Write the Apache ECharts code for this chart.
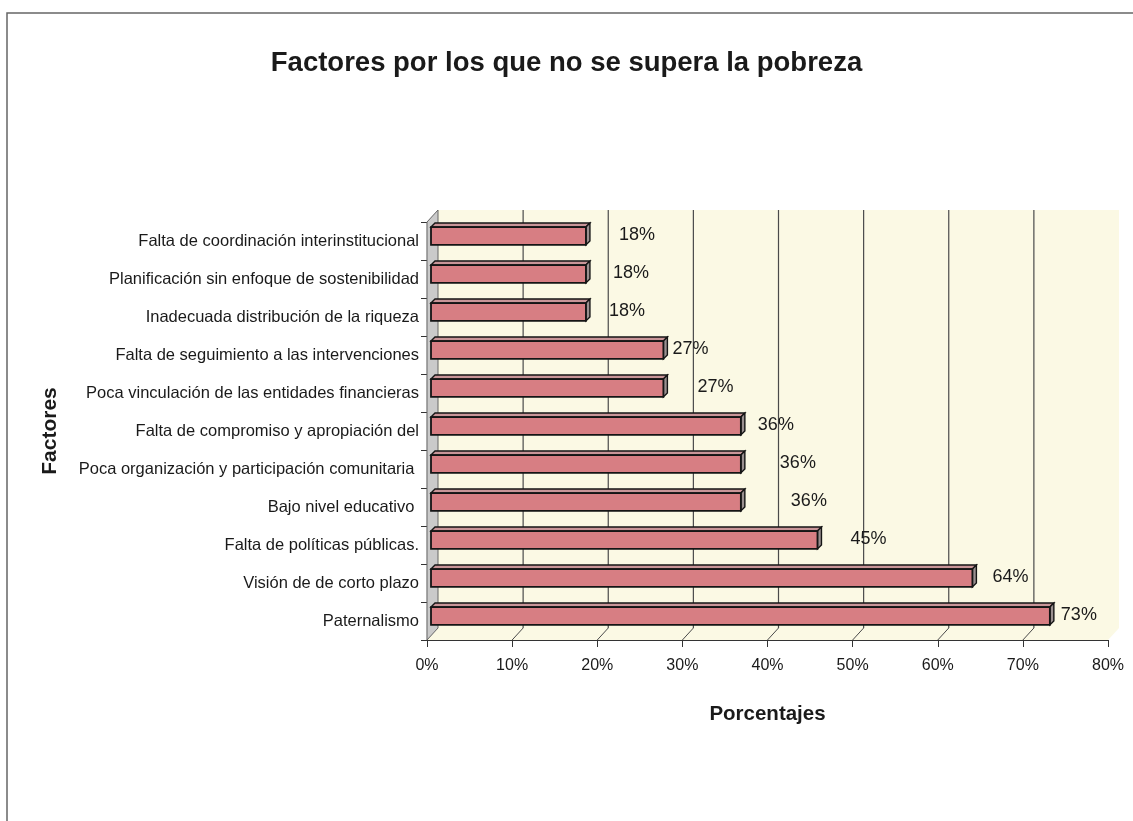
<!DOCTYPE html>
<html>
<head>
<meta charset="utf-8">
<script src="https://cdn.jsdelivr.net/npm/echarts@6/dist/echarts.min.js"></script>
<style>html,body{margin:0;padding:0;background:#fff;}#c{width:1133px;height:821px;}</style>
</head>
<body>
<div id="c"></div>
<script>
// ---- data ----
const categories = [
  'Falta de coordinación interinstitucional',
  'Planificación sin enfoque de sostenibilidad',
  'Inadecuada distribución de la riqueza',
  'Falta de seguimiento a las intervenciones',
  'Poca vinculación de las entidades financieras',
  'Falta de compromiso y apropiación del',
  'Poca organización y participación comunitaria ',
  'Bajo nivel educativo ',
  'Falta de políticas públicas.',
  'Visión de de corto plazo',
  'Paternalismo'
];
const values = [18.2, 18.2, 18.2, 27.3, 27.3, 36.4, 36.4, 36.4, 45.4, 63.6, 72.7];
const xTicks = [0, 10, 20, 30, 40, 50, 60, 70, 80];
const titleText = 'Factores por los que no se supera la pobreza';
const xName = 'Porcentajes';
const yName = 'Factores';

// ---- styling ----
const FONT = '"Liberation Sans", Arial, sans-serif';
const DEPTH_X = 11, DEPTH_Y = 12;      // wall depth
const BAR_DX = 4, BAR_DY = 5;          // bar placement within depth
const BAR_D = 4;                       // bar thickness (3D)
const labelNudge = [24, 18, 14, 0, 25, 8, 30, 41, 24, 11, 2];

const chart = echarts.init(document.getElementById('c'), null, {renderer: 'canvas'});

function backdrop(params, api) {
  const n = categories.length;
  const band = api.size([0, 1])[1];
  const x0 = api.coord([xTicks[0], 0])[0];
  const x1 = api.coord([xTicks[xTicks.length - 1], 0])[0];
  const yTop = api.coord([0, 0])[1] - band / 2;
  const yBot = api.coord([0, n - 1])[1] + band / 2;
  const children = [];
  // back wall + floor
  children.push({type: 'polygon', shape: {points: [
    [x0, yBot], [x0 + DEPTH_X, yBot - DEPTH_Y], [x0 + DEPTH_X, yTop - DEPTH_Y],
    [x1 + DEPTH_X, yTop - DEPTH_Y], [x1 + DEPTH_X, yBot - DEPTH_Y], [x1, yBot]
  ]}, style: {fill: '#fbf9e4'}});
  // left wall
  children.push({type: 'polygon', shape: {points: [
    [x0, yTop], [x0 + DEPTH_X, yTop - DEPTH_Y], [x0 + DEPTH_X, yBot - DEPTH_Y], [x0, yBot]
  ]}, style: {fill: '#cacaca', stroke: '#666', lineWidth: 1}});
  // grid lines on back wall and floor connectors
  xTicks.forEach(function (t) {
    if (t === xTicks[0] || t === xTicks[xTicks.length - 1]) return;
    const x = api.coord([t, 0])[0];
    children.push({type: 'line', shape: {x1: x + DEPTH_X, y1: yTop - DEPTH_Y, x2: x + DEPTH_X, y2: yBot - DEPTH_Y},
      style: {stroke: '#4a4a4a', lineWidth: 1.2}});
    children.push({type: 'line', shape: {x1: x, y1: yBot, x2: x + DEPTH_X, y2: yBot - DEPTH_Y},
      style: {stroke: '#4a4a4a', lineWidth: 1}});
  });
  return {type: 'group', children: children};
}

function bar3d(params, api) {
  const v = api.value(0);
  const idx = api.value(1);
  const band = api.size([0, 1])[1];
  const p0 = api.coord([0, idx]);
  const p1 = api.coord([v, idx]);
  const h = band * 0.47;
  const xa = p0[0] + BAR_DX, xb = p1[0] + BAR_DX;
  const yc = p1[1] - BAR_DY;
  const yt = yc - h / 2, yb = yc + h / 2;
  const stroke = '#151515';
  return {type: 'group', children: [
    {type: 'polygon', shape: {points: [[xa, yt], [xa + BAR_D, yt - BAR_D], [xb + BAR_D, yt - BAR_D], [xb, yt]]},
      style: {fill: '#c99598', stroke: stroke, lineWidth: 1.4}},
    {type: 'polygon', shape: {points: [[xb, yt], [xb + BAR_D, yt - BAR_D], [xb + BAR_D, yb - BAR_D], [xb, yb]]},
      style: {fill: '#9a9090', stroke: stroke, lineWidth: 1.4}},
    {type: 'rect', shape: {x: xa, y: yt, width: xb - xa, height: h},
      style: {fill: '#d77e83', stroke: stroke, lineWidth: 1.8}},
    {type: 'text', x: xb + BAR_D + 5 + labelNudge[idx], y: yc - 1,
      style: {text: Math.round(v) + '%', fill: '#1a1a1a', font: '18px ' + FONT, textAlign: 'left', textVerticalAlign: 'middle'}}
  ]};
}

chart.setOption({
  backgroundColor: '#ffffff',
  animation: false,
  title: {
    text: titleText, left: 'center', top: 44,
    textStyle: {fontFamily: FONT, fontSize: 27.5, fontWeight: 'bold', color: '#1a1a1a'}
  },
  graphic: [{
    type: 'polyline', shape: {points: [[7, 821], [7, 13], [1133, 13]]},
    style: {stroke: '#666', lineWidth: 1.5, fill: null}, silent: true
  }],
  grid: {left: 427, right: 25, top: 222, bottom: 181, containLabel: false},
  xAxis: {
    type: 'value', min: xTicks[0], max: xTicks[xTicks.length - 1], interval: 10,
    name: xName, nameLocation: 'middle', nameGap: 64,
    nameTextStyle: {fontFamily: FONT, fontSize: 20.5, fontWeight: 'bold', color: '#1a1a1a'},
    axisLine: {show: true, lineStyle: {color: '#333', width: 1.2}},
    axisTick: {show: true, length: 7, lineStyle: {color: '#333'}},
    axisLabel: {formatter: '{value}%', fontFamily: FONT, fontSize: 16, color: '#1a1a1a', margin: 18},
    splitLine: {show: false}
  },
  yAxis: {
    type: 'category', data: categories, inverse: true,
    name: yName, nameLocation: 'middle', nameGap: 366, nameRotate: 90,
    nameTextStyle: {fontFamily: FONT, fontSize: 21, fontWeight: 'bold', color: '#1a1a1a'},
    axisLine: {show: true, lineStyle: {color: '#333', width: 1.2}},
    axisTick: {show: true, length: 6, lineStyle: {color: '#333'}},
    axisLabel: {fontFamily: FONT, fontSize: 16.5, color: '#1a1a1a', margin: 8},
    splitLine: {show: false}
  },
  series: [
    {type: 'custom', name: 'backdrop', renderItem: backdrop, data: [[0, 0]], clip: false, z: 1, silent: true,
      encode: {x: 0, y: 1}},
    {type: 'custom', name: 'Porcentaje', renderItem: bar3d, clip: false, z: 3,
      data: values.map(function (v, i) { return [v, i]; }), encode: {x: 0, y: 1}}
  ]
});
</script>
</body>
</html>
